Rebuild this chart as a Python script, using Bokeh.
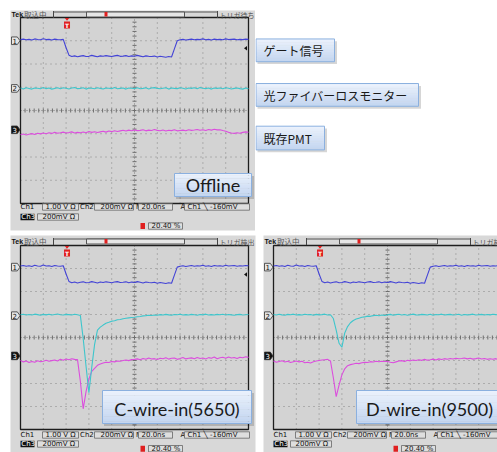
from bokeh.plotting import figure
from bokeh.models import Range1d
from bokeh.layouts import column, row
from bokeh.embed import file_html
from bokeh.resources import INLINE
from bokeh.core.properties import value

# ---------------- scope settings (read from the on-screen readout) ----------------
NS_PER_DIV = 20.0
X_DIVS = 10
Y_DIVS = 8
CH1_V_PER_DIV = 1.00
CH2_MV_PER_DIV = 200.0
CH3_MV_PER_DIV = 200.0
TRIG_PCT = 20.40
TRIG_LEVEL_MV = -160
SAMPLE_NS = 2.5

CH_LABELS = ["ゲート信号", "光ファイバーロスモニター", "既存PMT"]
PANEL_TITLES = ["Offline", "C-wire-in(5650)", "D-wire-in(9500)"]
STATUS = ["トリガ待ち", "トリガ検出", "トリガ検出"]

# channel ground positions (divisions from screen centre)
TOP_POS = [3.0, 0.95, -0.83]
BOT_POS = [3.06, 0.95, -0.80]

# ---------------- traces (one sample every SAMPLE_NS) ----------------
GATE_V = [0.05, 0.07, 0.04, 0.06, 0.03, 0.08, 0.05, 0.04, 0.09, 0.05,
          0.06, 0.03, 0.07, 0.05, 0.04, 0.06, -0.30, -0.62, -0.68, -0.65,
          -0.69, -0.66, -0.64, -0.68, -0.67, -0.63, -0.66, -0.69, -0.65, -0.67,
          -0.64, -0.66, -0.68, -0.65, -0.63, -0.67, -0.66, -0.64, -0.68, -0.65,
          -0.67, -0.63, -0.66, -0.69, -0.65, -0.67, -0.68, -0.66, -0.70, -0.67,
          -0.69, -0.71, -0.68, -0.70, -0.35, 0.00, 0.04, 0.06, 0.03, 0.05,
          0.07, 0.04, 0.06, 0.05, 0.08, 0.04, 0.06, 0.03, 0.07, 0.05,
          0.06, 0.04, 0.08, 0.05, 0.06, 0.07, 0.04, 0.06, 0.05, 0.07,
          0.06]

TOP_CH2_MV = [3, -5, 6, 0, -6, 4, 1, -3, 7, -2,
              3, -6, 0, 5, -3, 6, 1, -5, 3, 7,
              -2, 0, 5, -6, 3, 1, -3, 6, 0, -5,
              4, 1, -2, 7, -3, 0, 3, -6, 4, 1,
              -2, 6, -3, 0, 5, -5, 3, 7, 0, -3,
              1, 5, -6, 3, 0, -2, 6, 1, -5, 3,
              0, 5, -3, 7, 1, -2, 3, -6, 4, 0,
              3, -3, 6, 1, -5, 0, 4, -2, -6, 3,
              -3]

TOP_CH3_MV = [-42, -36, -45, -38, -33, -40, -30, -35, -28, -34,
              -25, -31, -22, -29, -26, -20, -28, -24, -18, -27,
              -22, -25, -19, -26, -15, -22, -17, -24, -18, -12,
              -20, -10, -16, -8, -14, -9, -4, -11, -3, -8,
              -1, -7, -5, 0, -9, -3, -6, 2, -5, -8,
              -2, -10, -4, -7, 0, -9, -6, -3, -8, 1,
              -5, -2, 3, -4, 0, -6, 2, -3, 4, -1,
              1, -6, -12, -22, -28, -31, -26, -30, -22, -18,
              -21]

C_CH2_MV = [8, 12, 5, 10, 6, 13, 9, 4, 11, 7,
            12, 6, 10, 14, 8, 5, 11, 9, 6, 12,
            8, 2, -200, -440, -670, -450, -250, -125, -100, -82,
            -66, -58, -48, -45, -35, -34, -27, -23, -19, -16,
            -14, -9, -7, -2, 0, 3, 1, 6, 4, 9,
            6, 11, 7, 3, 10, 8, 12, 5, 9, 6,
            11, 8, 4, 10, 7, 13, 6, 9, 5, 11,
            8, 12, 6, 10, 7, 4, 9, 11, 6, 8,
            10]

C_CH3_MV = [-40, -52, -45, -58, -48, -55, -42, -50, -46, -38,
            -47, -41, -35, -44, -30, -38, -27, -33, -25, -30,
            -32, -220, -460, -310, -200, -135, -108, -82, -70, -62,
            -55, -58, -48, -52, -44, -47, -40, -36, -41, -32,
            -30, -26, -34, -22, -29, -18, -27, -24, -31, -20,
            -25, -16, -28, -21, -19, -30, -23, -14, -26, -20,
            -17, -25, -13, -22, -18, -27, -15, -21, -10, -24,
            -16, -12, -20, -9, -18, -14, -22, -11, -16, -8,
            -13]

D_CH2_MV = [10, 6, 12, 7, 4, 11, 8, 13, 6, 9,
            5, 12, 8, 10, 4, 11, 7, 9, 13, 6,
            8, -25, -125, -240, -275, -150, -95, -62, -42, -30,
            -22, -14, -11, -4, -6, 0, 3, -1, 5, 2,
            7, 11, 4, 9, 12, 6, 10, 3, 8, 13,
            7, 5, 11, 9, 6, 12, 4, 10, 8, 13,
            5, 9, 11, 6, 8, 12, 4, 10, 7, 9,
            13, 5, 8, 11, 6, 10, 7, 12, 9, 5,
            8]

D_CH3_MV = [-45, -55, -48, -42, -53, -46, -58, -50, -44, -52,
            -47, -60, -55, -62, -51, -45, -40, -36, -33, -30,
            -45, -190, -355, -255, -165, -112, -85, -76, -70, -64,
            -67, -60, -56, -58, -50, -53, -47, -51, -46, -49,
            -48, -55, -60, -52, -45, -41, -48, -38, -43, -36,
            -40, -34, -39, -30, -37, -33, -28, -35, -26, -31,
            -24, -29, -22, -27, -20, -25, -23, -18, -26, -21,
            -28, -24, -19, -27, -22, -30, -25, -29, -24, -32,
            -27]

# ---------------- styles ----------------
INNER_GRAY = "#d3d3d3"
OUTER_GRAY = "#d8d8d8"
COL1 = "#4343d6"
COL2 = "#3ec6cc"
COL3 = "#dc4ede"
SANS = "DejaVu Sans"
JP = "Noto Sans CJK JP"
LAT = "Lato"


def txt(p, x, y, s, size="7px", color="#111111", align="left", font=SANS, style="normal", **kw):
    p.text(x=[x], y=[y], text=[s], text_font=value(font), text_font_size=size,
           text_color=color, text_align=align, text_baseline="middle",
           text_font_style=style, **kw)


def callout(p, l, r, t, b, label, size, font, tx=None, align="center", dy=0.0):
    p.quad(left=[l + 1.5], right=[r + 2.5], top=[t + 2.5], bottom=[b + 2.5],
           fill_color="#000000", fill_alpha=0.16, line_color=None)
    n = 14
    c0 = (0xec, 0xf2, 0xfc)
    c1 = (0xc2, 0xd5, 0xf0)
    ls, rs, ts, bs, cs = [], [], [], [], []
    for i in range(n):
        f = (i + 0.5) / n
        cs.append("#%02x%02x%02x" % tuple(int(round(a + (c - a) * f)) for a, c in zip(c0, c1)))
        ls.append(l)
        rs.append(r)
        ts.append(t + (b - t) * i / n)
        bs.append(min(b, t + (b - t) * (i + 1) / n + 0.4))
    p.quad(left=ls, right=rs, top=ts, bottom=bs, fill_color=cs, line_color=None)
    p.quad(left=[l], right=[r], top=[t], bottom=[b], fill_color=None,
           line_color="#8bb0df", line_width=1)
    x = (l + r) / 2.0 if tx is None else tx
    txt(p, x, (t + b) / 2.0 + dy, label, size=size, color="#1a1a1a", align=align, font=font)


def scope(cfg):
    w, h = cfg["size"]
    mbl, mbr, mbt, mbb = cfg["borders"]
    fw, fh = w - mbl - mbr, h - mbt - mbb
    gl, gr, gt, gb = cfg["grid"]
    span = X_DIVS * NS_PER_DIV
    half = Y_DIVS / 2.0
    ppn = (gr - gl) / span
    ppd = (gb - gt) / Y_DIVS
    gcy = (gt + gb) / 2.0

    p = figure(width=w, height=h, x_range=Range1d(0, fw), y_range=Range1d(fh, 0),
               output_backend="svg", toolbar_location=None, title=None,
               x_axis_location=None, y_axis_location=None,
               min_border_left=mbl, min_border_right=mbr,
               min_border_top=mbt, min_border_bottom=mbb)
    p.extra_x_ranges = {"t": Range1d(-gl / ppn, (fw - gl) / ppn)}
    p.extra_y_ranges = {"v": Range1d((gcy - fh) / ppd, gcy / ppd)}
    p.grid.visible = False
    p.background_fill_color = OUTER_GRAY
    p.border_fill_color = "white"
    p.outline_line_color = None
    TV = dict(x_range_name="t", y_range_name="v")

    # screen area
    p.quad(left=[gl], right=[gr], top=[gt], bottom=[gb], fill_color=INNER_GRAY, line_color=None)
    for k in range(1, X_DIVS):
        if k != X_DIVS // 2:
            p.line([k * NS_PER_DIV] * 2, [-half, half], line_color="#858585", line_dash="1 4",
                   line_width=1, **TV)
    for k in range(-int(half) + 1, int(half)):
        if k != 0:
            p.line([0, span], [k, k], line_color="#858585", line_dash="1 4", line_width=1, **TV)
    p.line([span / 2] * 2, [-half, half], line_color="#7a7a7a", line_dash="1 2", line_width=1, **TV)
    p.line([0, span], [0, 0], line_color="#7a7a7a", line_dash="1 2", line_width=1, **TV)
    tt = [j * NS_PER_DIV / 5 for j in range(1, X_DIVS * 5)]
    p.segment(x0=tt, y0=[-2 / ppd] * len(tt), x1=tt, y1=[2 / ppd] * len(tt),
              line_color="#6e6e6e", line_width=1, **TV)
    tv = [-half + j * 0.2 for j in range(1, Y_DIVS * 5)]
    p.segment(x0=[span / 2 - 2 / ppn] * len(tv), y0=tv, x1=[span / 2 + 2 / ppn] * len(tv), y1=tv,
              line_color="#6e6e6e", line_width=1, **TV)
    p.quad(left=[gl], right=[gr], top=[gt], bottom=[gb], fill_color=None,
           line_color="#1e1e1e", line_width=1.3)

    # traces
    for vals, pos, per_div, col in cfg["traces"]:
        xs, ys = [], []
        for i, v in enumerate(vals):
            t = i * SAMPLE_NS
            if t <= span:
                xs.append(t)
                ys.append(pos + v / per_div)
        p.line(xs, ys, line_color=col, line_width=1.1, **TV)

    # channel ground markers
    pos1, pos2, pos3 = cfg["pos"]
    hh = 3.8 / ppd
    for n, pos, fill, tc in ((1, pos1, "#e4e4e4", "#111111"), (2, pos2, "#e4e4e4", "#111111"),
                             (3, pos3, "#111111", "#ffffff")):
        p.patch([1, 6.8, 9.5, 6.8, 1], [pos + hh, pos + hh, pos, pos - hh, pos - hh],
                fill_color=fill, line_color="#333333", line_width=0.8, y_range_name="v")
        txt(p, 4.2, pos, str(n), size="7px", color=tc, align="center", y_range_name="v")
    # trigger level arrow (right edge)
    lv = pos1 - 0.32
    p.patch([gr - 4.5, gr - 1.5, gr - 1.5], [lv, lv + 2.2 / ppd, lv - 2.2 / ppd],
            fill_color="#111111", line_color=None, y_range_name="v")

    # trigger position marker
    tp = TRIG_PCT / 100.0 * span
    p.patch([tp - 2.2 / ppn, tp + 2.2 / ppn, tp], [gt + 0.5, gt + 0.5, gt + 3.2],
            fill_color="#e02020", line_color=None, x_range_name="t")
    p.quad(left=[tp - 3 / ppn], right=[tp + 3 / ppn], top=[gt + 4], bottom=[gt + 11],
           fill_color="#e02020", line_color=None, x_range_name="t")
    txt(p, tp, gt + 7.6, "T", size="6px", color="#ffffff", align="center", style="bold",
        x_range_name="t")

    # header
    hdr = cfg["hdr"]
    txt(p, 1, hdr, "Tek", size="7px", color="#111111", style="bold", font="Liberation Sans")
    txt(p, 13.5, hdr, "取込中", size="7.5px", color="#555555", font=JP)
    p.segment(x0=[43, 207], y0=[hdr - 3.5] * 2, x1=[43, 207], y1=[hdr + 3.5] * 2,
              line_color="#444444", line_width=1)
    p.segment(x0=[43], y0=[hdr - 2.5], x1=[207], y1=[hdr - 2.5], line_color="#555555", line_width=1)
    p.quad(left=[76], right=[174], top=[hdr - 2.5], bottom=[hdr + 2.5], fill_color="#e6e6e6",
           line_color="#555555", line_width=1)
    p.quad(left=[94], right=[97], top=[hdr - 2.5], bottom=[hdr + 2], fill_color="#e02020",
           line_color=None)
    txt(p, 209, hdr, cfg["status"], size="7px", color="#555555", font=JP)

    # readout rows
    r1, r2, r3 = cfg["rows"]

    def box(l, r, y):
        p.quad(left=[l], right=[r], top=[y - 3.2], bottom=[y + 3.2], fill_color="#dedede",
               line_color="#666666", line_width=0.8)

    txt(p, 10, r1, "Ch1")
    box(32, 68, r1)
    txt(p, 35, r1, "%.2f V Ω" % CH1_V_PER_DIV)
    txt(p, 69.5, r1, "Ch2")
    box(84, 123, r1)
    txt(p, 90, r1, "%dmV Ω" % CH2_MV_PER_DIV)
    txt(p, 125.5, r1, "M")
    box(128, 162, r1)
    txt(p, 131, r1, "%.1fns" % NS_PER_DIV)
    txt(p, 170, r1, "A")
    box(174, 239, r1)
    txt(p, 177, r1, "Ch1  ╲  %dmV" % TRIG_LEVEL_MV)
    p.quad(left=[10], right=[24], top=[r2 - 3.2], bottom=[r2 + 3.2], fill_color="#111111",
           line_color=None)
    txt(p, 10.8, r2, "Ch3", color="#ffffff")
    box(27, 68, r2)
    txt(p, 32, r2, "%dmV Ω" % CH3_MV_PER_DIV)
    p.quad(left=[130], right=[134.5], top=[r3 - 3], bottom=[r3 + 3], fill_color="#e02020",
           line_color=None)
    box(138, 172, r3)
    txt(p, 141, r3, "%.2f %%" % TRIG_PCT)

    # panel caption
    l, r, t, b = cfg["cap_box"]
    callout(p, l, r, t, b, cfg["caption"], "18px", LAT, dy=cfg["cap_dy"])
    return p


top = scope(dict(size=(255, 232), borders=(10, 0, 10, 2), grid=(10, 238, 7, 193),
                 pos=TOP_POS, hdr=4.0, rows=(196.5, 206.5, 215.5), status=STATUS[0],
                 traces=[(TOP_CH3_MV, TOP_POS[2], CH3_MV_PER_DIV, COL3),
                         (TOP_CH2_MV, TOP_POS[1], CH2_MV_PER_DIV, COL2),
                         (GATE_V, TOP_POS[0], CH1_V_PER_DIV, COL1)],
                 caption=PANEL_TITLES[0], cap_box=(164, 241, 163, 186), cap_dy=-0.5))

cwire = scope(dict(size=(259, 220), borders=(10, 4, 3, 0), grid=(10, 238, 10, 194),
                   pos=BOT_POS, hdr=6.0, rows=(199.5, 208.5, 213.2), status=STATUS[1],
                   traces=[(C_CH3_MV, BOT_POS[2], CH3_MV_PER_DIV, COL3),
                           (C_CH2_MV, BOT_POS[1], CH2_MV_PER_DIV, COL2),
                           (GATE_V, BOT_POS[0], CH1_V_PER_DIV, COL1)],
                   caption=PANEL_TITLES[1], cap_box=(92, 241, 155, 188), cap_dy=2.0))

dwire = scope(dict(size=(238, 220), borders=(4, 0, 3, 0), grid=(10, 238, 10, 194),
                   pos=BOT_POS, hdr=6.0, rows=(199.5, 208.5, 213.2), status=STATUS[2],
                   traces=[(D_CH3_MV, BOT_POS[2], CH3_MV_PER_DIV, COL3),
                           (D_CH2_MV, BOT_POS[1], CH2_MV_PER_DIV, COL2),
                           (GATE_V, BOT_POS[0], CH1_V_PER_DIV, COL1)],
                   caption=PANEL_TITLES[2], cap_box=(93, 239, 155, 188), cap_dy=2.0))

# legend-like callouts to the right of the top screen
leg = figure(width=242, height=232, x_range=Range1d(0, 242), y_range=Range1d(232, 0),
             output_backend="svg", toolbar_location=None, title=None,
             x_axis_location=None, y_axis_location=None,
             min_border_left=0, min_border_right=0, min_border_top=0, min_border_bottom=0)
leg.grid.visible = False
leg.background_fill_color = "white"
leg.border_fill_color = "white"
leg.outline_line_color = None
for lab, (r, t, b) in zip(CH_LABELS, [(79, 30, 54), (163, 77, 101), (69, 122, 147)]):
    callout(leg, 0.5, r, t, b, lab, "12px", JP, tx=8, align="left", dy=0.5)

page = column(row(top, leg), row(cwire, dwire))
open("out.html", "w").write(file_html(page, INLINE, title="scope"))
